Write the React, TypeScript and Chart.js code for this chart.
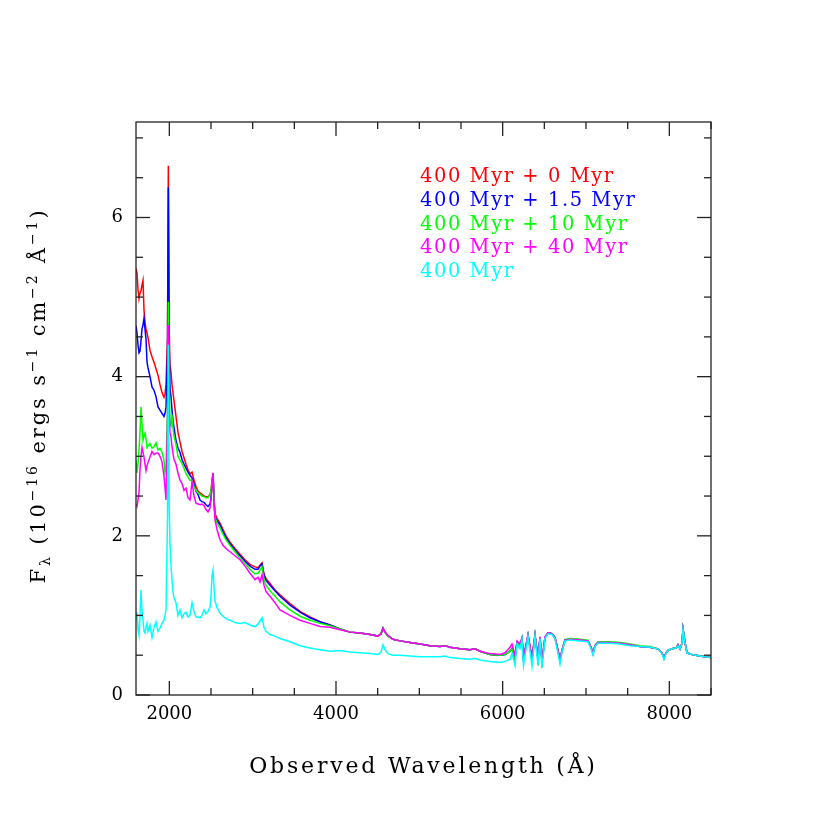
import React, { useEffect, useRef } from "react";
import { Chart, registerables } from "chart.js";

Chart.register(...registerables);

// Observed wavelength grid (Å)
const wavelength = [
  1600, 1612, 1624, 1636, 1648, 1660, 1672, 1684, 1696, 1708,
  1720, 1732, 1744, 1768, 1792, 1816, 1840, 1864, 1888, 1912,
  1936, 1948, 1960, 1978, 1988, 1998, 2008, 2020, 2032, 2044,
  2056, 2080, 2104, 2128, 2152, 2176, 2200, 2224, 2248, 2272,
  2296, 2320, 2344, 2368, 2392, 2416, 2440, 2464, 2488, 2500,
  2512, 2524, 2536, 2548, 2572, 2608, 2644, 2680, 2728, 2788,
  2848, 2908, 2968, 3028, 3064, 3088, 3112, 3136, 3160, 3208,
  3268, 3328, 3448, 3568, 3688, 3808, 3928, 4048, 4168, 4288,
  4408, 4504, 4540, 4564, 4588, 4624, 4684, 4768, 4888, 5008,
  5128, 5248, 5308, 5368, 5488, 5608, 5668, 5728, 5848, 5968,
  6028, 6088, 6112, 6148, 6172, 6208, 6232, 6250, 6304, 6352,
  6388, 6424, 6448, 6472, 6508, 6544, 6592, 6628, 6664, 6688,
  6712, 6748, 6808, 6928, 7024, 7060, 7084, 7108, 7144, 7288,
  7408, 7528, 7648, 7768, 7864, 7912, 7936, 7960, 7984, 8032,
  8080, 8104, 8128, 8152, 8164, 8188, 8212, 8272, 8368, 8428,
  8500,
];

// 400 Myr + 0 Myr
const flux400plus0 = [
  5.36, 5.30, 5.10, 4.98, 5.05, 5.08, 5.15, 5.21, 4.84, 4.68,
  4.60, 4.55, 4.49, 4.33, 4.25, 4.18, 4.10, 4.02, 3.90, 3.80,
  3.74, 3.78, 3.90, 4.50, 6.65, 4.60, 4.15, 4.05, 3.90, 3.80,
  3.70, 3.50, 3.30, 3.18, 3.06, 2.98, 2.90, 2.83, 2.78, 2.80,
  2.70, 2.62, 2.56, 2.54, 2.52, 2.50, 2.49, 2.49, 2.52, 2.56,
  2.70, 2.79, 2.50, 2.28, 2.22, 2.16, 2.08, 2.00, 1.92, 1.84,
  1.77, 1.70, 1.64, 1.61, 1.60, 1.63, 1.66, 1.52, 1.46, 1.40,
  1.32, 1.26, 1.15, 1.05, 0.98, 0.92, 0.88, 0.83, 0.79, 0.78,
  0.76, 0.74, 0.77, 0.84, 0.79, 0.74, 0.70, 0.68, 0.66, 0.64,
  0.62, 0.61, 0.62, 0.60, 0.58, 0.57, 0.58, 0.55, 0.51, 0.50,
  0.51, 0.55, 0.58, 0.46, 0.66, 0.62, 0.71, 0.45, 0.75, 0.45,
  0.75, 0.45, 0.72, 0.42, 0.72, 0.78, 0.77, 0.72, 0.56, 0.43,
  0.56, 0.69, 0.70, 0.69, 0.68, 0.60, 0.52, 0.62, 0.66, 0.66,
  0.65, 0.63, 0.61, 0.60, 0.58, 0.53, 0.46, 0.53, 0.56, 0.58,
  0.59, 0.63, 0.58, 0.65, 0.83, 0.66, 0.53, 0.51, 0.49, 0.48,
  0.47,
];

// 400 Myr + 1.5 Myr
const flux400plus1p5 = [
  4.64, 4.55, 4.40, 4.30, 4.32, 4.45, 4.60, 4.65, 4.73, 4.60,
  4.47, 4.19, 4.11, 4.00, 3.87, 3.83, 3.75, 3.62, 3.58, 3.54,
  3.50, 3.54, 3.61, 4.30, 6.38, 4.40, 3.85, 3.75, 3.58, 3.45,
  3.36, 3.20, 3.10, 3.05, 2.96, 2.90, 2.85, 2.80, 2.76, 2.73,
  2.65, 2.56, 2.52, 2.45, 2.43, 2.42, 2.39, 2.37, 2.40, 2.48,
  2.65, 2.78, 2.45, 2.24, 2.19, 2.14, 2.05, 1.98, 1.90, 1.82,
  1.75, 1.68, 1.62, 1.58, 1.58, 1.62, 1.65, 1.50, 1.44, 1.38,
  1.31, 1.24, 1.13, 1.04, 0.97, 0.92, 0.88, 0.83, 0.79, 0.78,
  0.76, 0.74, 0.77, 0.84, 0.79, 0.74, 0.70, 0.68, 0.66, 0.64,
  0.62, 0.61, 0.62, 0.60, 0.58, 0.57, 0.58, 0.55, 0.51, 0.50,
  0.51, 0.55, 0.58, 0.46, 0.66, 0.62, 0.71, 0.45, 0.75, 0.45,
  0.75, 0.45, 0.72, 0.42, 0.72, 0.78, 0.77, 0.72, 0.56, 0.43,
  0.56, 0.69, 0.70, 0.69, 0.68, 0.60, 0.52, 0.62, 0.66, 0.66,
  0.65, 0.63, 0.61, 0.60, 0.58, 0.53, 0.46, 0.53, 0.56, 0.58,
  0.59, 0.63, 0.58, 0.65, 0.83, 0.66, 0.53, 0.51, 0.49, 0.48,
  0.47,
];

// 400 Myr + 10 Myr
const flux400plus10 = [
  2.95, 2.79, 2.90, 3.08, 3.30, 3.62, 3.40, 3.20, 3.25, 3.29,
  3.22, 3.11, 3.13, 3.16, 3.10, 3.12, 3.17, 3.08, 3.10, 3.05,
  2.95, 2.79, 2.85, 3.60, 4.94, 3.90, 3.40, 3.38, 3.52, 3.35,
  3.25, 3.15, 3.00, 2.95, 2.91, 2.85, 2.78, 2.74, 2.70, 2.70,
  2.62, 2.57, 2.54, 2.52, 2.50, 2.49, 2.48, 2.48, 2.52, 2.56,
  2.68, 2.77, 2.46, 2.23, 2.16, 2.10, 2.02, 1.95, 1.88, 1.80,
  1.72, 1.65, 1.58, 1.52, 1.53, 1.57, 1.61, 1.45, 1.38, 1.31,
  1.24, 1.17, 1.07, 0.99, 0.94, 0.90, 0.87, 0.83, 0.79, 0.78,
  0.76, 0.74, 0.77, 0.84, 0.79, 0.74, 0.70, 0.68, 0.66, 0.64,
  0.62, 0.61, 0.62, 0.60, 0.58, 0.57, 0.58, 0.55, 0.51, 0.50,
  0.51, 0.55, 0.58, 0.46, 0.66, 0.62, 0.71, 0.45, 0.75, 0.45,
  0.75, 0.45, 0.72, 0.42, 0.72, 0.78, 0.77, 0.72, 0.56, 0.43,
  0.56, 0.70, 0.71, 0.70, 0.69, 0.60, 0.52, 0.62, 0.67, 0.67,
  0.66, 0.64, 0.62, 0.61, 0.58, 0.53, 0.46, 0.53, 0.56, 0.58,
  0.59, 0.63, 0.58, 0.65, 0.83, 0.66, 0.53, 0.51, 0.49, 0.48,
  0.47,
];

// 400 Myr + 40 Myr
const flux400plus40 = [
  2.40, 2.37, 2.45, 2.54, 2.83, 3.00, 3.11, 3.05, 2.99, 2.90,
  2.82, 2.88, 2.92, 2.99, 3.06, 3.02, 3.04, 3.04, 3.00, 2.93,
  2.75, 2.61, 2.45, 3.40, 4.65, 3.60, 3.30, 3.25, 3.12, 3.04,
  2.96, 2.90, 2.79, 2.70, 2.66, 2.57, 2.60, 2.48, 2.45, 2.68,
  2.50, 2.41, 2.40, 2.39, 2.40, 2.38, 2.33, 2.30, 2.35, 2.45,
  2.62, 2.79, 2.42, 2.20, 2.08, 1.95, 1.88, 1.84, 1.80, 1.75,
  1.70, 1.62, 1.53, 1.45, 1.48, 1.42, 1.51, 1.38, 1.30, 1.24,
  1.16, 1.07, 1.00, 0.94, 0.90, 0.86, 0.85, 0.82, 0.79, 0.78,
  0.76, 0.74, 0.77, 0.84, 0.79, 0.75, 0.70, 0.68, 0.66, 0.64,
  0.62, 0.61, 0.62, 0.60, 0.58, 0.57, 0.58, 0.55, 0.52, 0.51,
  0.53, 0.60, 0.64, 0.50, 0.68, 0.64, 0.72, 0.48, 0.76, 0.47,
  0.76, 0.47, 0.73, 0.44, 0.73, 0.78, 0.77, 0.72, 0.56, 0.44,
  0.56, 0.69, 0.70, 0.69, 0.68, 0.60, 0.52, 0.62, 0.66, 0.66,
  0.65, 0.63, 0.61, 0.60, 0.58, 0.53, 0.46, 0.53, 0.56, 0.58,
  0.59, 0.63, 0.58, 0.65, 0.83, 0.66, 0.53, 0.51, 0.49, 0.48,
  0.47,
];

// 400 Myr
const flux400 = [
  0.95, 1.04, 0.82, 0.75, 1.00, 1.32, 1.05, 0.94, 0.80, 0.78,
  0.85, 0.90, 0.80, 0.88, 0.72, 0.85, 0.92, 0.80, 0.84, 0.90,
  0.94, 1.00, 1.07, 2.20, 4.40, 2.40, 1.90, 1.62, 1.45, 1.30,
  1.22, 1.16, 1.00, 1.07, 0.97, 1.02, 1.04, 0.98, 1.00, 1.16,
  1.05, 0.98, 0.98, 0.97, 1.00, 1.07, 1.02, 1.05, 1.10, 1.25,
  1.50, 1.57, 1.35, 1.18, 1.10, 1.03, 0.99, 0.96, 0.94, 0.91,
  0.90, 0.91, 0.88, 0.86, 0.89, 0.93, 0.97, 0.85, 0.80, 0.76,
  0.74, 0.71, 0.67, 0.62, 0.59, 0.57, 0.55, 0.56, 0.54, 0.53,
  0.52, 0.51, 0.54, 0.63, 0.57, 0.52, 0.50, 0.50, 0.49, 0.48,
  0.48, 0.48, 0.49, 0.47, 0.46, 0.45, 0.46, 0.44, 0.42, 0.41,
  0.42, 0.45, 0.52, 0.37, 0.64, 0.58, 0.70, 0.37, 0.74, 0.36,
  0.74, 0.37, 0.71, 0.34, 0.71, 0.77, 0.76, 0.71, 0.52, 0.39,
  0.54, 0.68, 0.69, 0.68, 0.67, 0.58, 0.50, 0.61, 0.65, 0.65,
  0.64, 0.62, 0.61, 0.60, 0.58, 0.52, 0.45, 0.52, 0.56, 0.58,
  0.59, 0.62, 0.58, 0.65, 0.82, 0.66, 0.53, 0.51, 0.49, 0.48,
  0.47,
];

const seriesLabels = [
  "400 Myr + 0 Myr",
  "400 Myr + 1.5 Myr",
  "400 Myr + 10 Myr",
  "400 Myr + 40 Myr",
  "400 Myr",
];
const seriesColors = ["#ff0000", "#0000ff", "#00ff00", "#ff00ff", "#00ffff"];

const xTickLabels = [2000, 4000, 6000, 8000];
const yTickLabels = [0, 2, 4, 6];
const xMinorStep = 500;
const yMinorStep = 0.5;
const xLimits = [1600, 8500];
const yLimits = [0, 7.2];

const xTitle = "Observed Wavelength (Å)";
// y title pieces: [text, baseline shift, small?]
const yTitleParts: [string, number, boolean][] = [
  ["F", 0, false],
  ["λ", 5, true],
  [" (10", 0, false],
  ["−16", -8, true],
  [" ergs s", 0, false],
  ["−1", -8, true],
  [" cm", 0, false],
  ["−2", -8, true],
  [" Å", 0, false],
  ["−1", -8, true],
  [")", 0, false],
];

const SERIF = "'DejaVu Serif'";

const framePlugin = {
  id: "frameTicksLegend",
  beforeDraw(chart: any) {
    // spacing for the typewriter-like x-axis title (drawn by the scale before datasets)
    chart.ctx.letterSpacing = "2.8px";
  },
  beforeDatasetsDraw(chart: any) {
    chart.ctx.letterSpacing = "0px";
  },
  afterDraw(chart: any) {
    const { ctx, chartArea: a, scales } = chart;
    const xs = scales.x;
    const ys = scales.y;
    ctx.save();
    ctx.letterSpacing = "0px";
    ctx.strokeStyle = "#222";
    ctx.lineWidth = 1.3;
    ctx.strokeRect(a.left, a.top, a.right - a.left, a.bottom - a.top);

    const line = (x1: number, y1: number, x2: number, y2: number) => {
      ctx.beginPath();
      ctx.moveTo(x1, y1);
      ctx.lineTo(x2, y2);
      ctx.stroke();
    };
    const startX = Math.ceil(xLimits[0] / xMinorStep) * xMinorStep;
    for (let v = startX; v <= xLimits[1]; v += xMinorStep) {
      const len = xTickLabels.includes(v) ? 14 : 7;
      const px = xs.getPixelForValue(v);
      line(px, a.bottom, px, a.bottom - len);
      line(px, a.top, px, a.top + len);
    }
    for (let k = 0; k * yMinorStep <= yLimits[1] + 1e-9; k++) {
      const v = k * yMinorStep;
      const len = yTickLabels.includes(v) ? 14 : 7;
      const py = ys.getPixelForValue(v);
      line(a.left, py, a.left + len, py);
      line(a.right, py, a.right - len, py);
    }

    // legend
    ctx.font = `19.5px ${SERIF}`;
    ctx.letterSpacing = "1.55px";
    ctx.textAlign = "left";
    ctx.textBaseline = "alphabetic";
    seriesLabels.forEach((t, i) => {
      ctx.fillStyle = seriesColors[i];
      ctx.fillText(t, a.left + 284, a.top + 60 + i * 23.8);
    });

    // y axis title
    const mainFont = `21px ${SERIF}`;
    const smallFont = `14px ${SERIF}`;
    ctx.letterSpacing = "0px";
    let natural = 0;
    let nChars = 0;
    const widths = yTitleParts.map(([t, , small]) => {
      ctx.font = small ? smallFont : mainFont;
      const w = ctx.measureText(t).width;
      natural += w;
      nChars += t.length;
      return w;
    });
    const targetLen = 376;
    const ls = Math.max(0, (targetLen - natural) / nChars);
    const midY = (a.top + a.bottom) / 2 - 13;
    ctx.translate(45, midY + targetLen / 2);
    ctx.rotate(-Math.PI / 2);
    ctx.fillStyle = "#000";
    ctx.letterSpacing = `${ls}px`;
    let cx = 0;
    yTitleParts.forEach(([t, dy, small], i) => {
      ctx.font = small ? smallFont : mainFont;
      ctx.fillText(t, cx, dy);
      cx += widths[i] + t.length * ls;
    });
    ctx.restore();
  },
};

export default function App() {
  const ref = useRef<HTMLCanvasElement>(null);
  useEffect(() => {
    const canvas = ref.current;
    if (!canvas) return;
    const series = [flux400plus0, flux400plus1p5, flux400plus10, flux400plus40, flux400];
    const datasets = series.map((vals, i) => ({
      label: seriesLabels[i],
      data: wavelength.map((w, j) => ({ x: w, y: vals[j] })),
      borderColor: seriesColors[i],
      backgroundColor: seriesColors[i],
      borderWidth: 1.5,
      pointRadius: 0,
      pointHoverRadius: 0,
      tension: 0,
      fill: false,
      order: series.length - i,
    }));
    const chart = new Chart(canvas, {
      type: "line",
      data: { datasets },
      options: {
        animation: false,
        responsive: false,
        devicePixelRatio: 1,
        events: [],
        layout: { padding: { left: 0, right: 119, top: 122, bottom: 0 } },
        plugins: { legend: { display: false }, tooltip: { enabled: false } },
        scales: {
          x: {
            type: "linear",
            min: xLimits[0],
            max: xLimits[1],
            afterBuildTicks: (s: any) => {
              s.ticks = xTickLabels.map((v) => ({ value: v }));
            },
            afterFit: (s: any) => {
              s.height = 135;
            },
            grid: { display: false, drawTicks: false },
            border: { display: false },
            ticks: {
              z: 1,
              padding: 9,
              color: "#000",
              maxRotation: 0,
              autoSkip: false,
              font: { family: SERIF, size: 18 },
              callback: (v: any) => String(v),
            },
            title: {
              display: true,
              text: xTitle,
              color: "#000",
              font: { family: SERIF, size: 22 },
              padding: { top: 0, bottom: 50 },
            },
          },
          y: {
            type: "linear",
            min: yLimits[0],
            max: yLimits[1],
            afterBuildTicks: (s: any) => {
              s.ticks = yTickLabels.map((v) => ({ value: v }));
            },
            afterFit: (s: any) => {
              s.width = 136;
            },
            grid: { display: false, drawTicks: false },
            border: { display: false },
            ticks: {
              z: 1,
              padding: 13,
              color: "#000",
              autoSkip: false,
              font: { family: SERIF, size: 18 },
              callback: (v: any) => String(v),
            },
          },
        },
      },
      plugins: [framePlugin],
    } as any);
    return () => chart.destroy();
  }, []);
  return (
    <div style={{ position: "fixed", left: 0, top: 0, width: 830, height: 830, background: "#fff" }}>
      <canvas ref={ref} width={830} height={830} style={{ width: 830, height: 830, display: "block" }} />
    </div>
  );
}
